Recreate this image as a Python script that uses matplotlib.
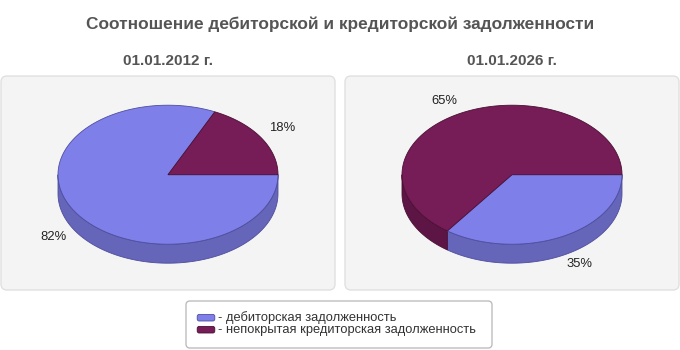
import numpy as np
import matplotlib
matplotlib.use("Agg")
import matplotlib.pyplot as plt
from matplotlib.patches import FancyBboxPatch, Polygon

plt.rcParams['font.family'] = ['Liberation Sans', 'DejaVu Sans']

# данные
title = "Соотношение дебиторской и кредиторской задолженности"
dates = ["01.01.2012 г.", "01.01.2026 г."]
series_names = ["- дебиторская задолженность", "- непокрытая кредиторская задолженность"]
receivable = [82, 35]
payable = [18, 65]

top_colors = ["#7F7FEA", "#761C56"]
side_colors = ["#6565B9", "#5C1544"]
edge_colors = ["#4E4E9E", "#4A1035"]

fig = plt.figure(figsize=(6.8, 3.5), dpi=100)
ax = fig.add_axes([0, 0, 1, 1])
ax.set_xlim(0, 680)
ax.set_ylim(350, 0)
ax.axis('off')

ax.text(340, 24, title, ha='center', va='center', fontsize=12.4, fontweight='bold', color='#555555')


def pt(cx, cy, rx, ry, a):
    return cx + rx * np.cos(a), cy - ry * np.sin(a)


def pie3d(cx, cy, rx, ry, depth, values):
    total = float(sum(values))
    frac = np.cumsum([0] + list(values)) / total
    # по часовой стрелке от 3 часов
    angles = -frac * 2 * np.pi
    # боковые стенки (только передняя половина)
    for i in range(len(values)):
        a0, a1 = angles[i], angles[i + 1]
        lo, hi = min(a0, a1), max(a0, a1)
        for k in range(-1, 1):
            f0 = max(lo, -np.pi + 2 * np.pi * k)
            f1 = min(hi, 0 + 2 * np.pi * k)
            if f1 > f0:
                t = np.linspace(f0, f1, 80)
                x, y = pt(cx, cy, rx, ry, t)
                xs = np.concatenate([x, x[::-1]])
                ys = np.concatenate([y, y[::-1] + depth])
                ax.add_patch(Polygon(np.column_stack([xs, ys]), closed=True,
                                     facecolor=side_colors[i], edgecolor=edge_colors[i], lw=0.6))
    # верх
    for i in range(len(values)):
        t = np.linspace(angles[i], angles[i + 1], 200)
        x, y = pt(cx, cy, rx, ry, t)
        xs = np.concatenate([[cx], x])
        ys = np.concatenate([[cy], y])
        ax.add_patch(Polygon(np.column_stack([xs, ys]), closed=True,
                             facecolor=top_colors[i], edgecolor=edge_colors[i], lw=0.6))
    # подписи
    for i in range(len(values)):
        mid = (angles[i] + angles[i + 1]) / 2
        x, y = pt(cx, cy, rx * 1.09, ry * 1.09, mid)
        ha = 'left' if np.cos(mid) > 0 else 'right'
        if np.sin(mid) > 0:
            va = 'bottom'
        else:
            va = 'top'
            y += depth * 0.82
        ax.text(x, y, "%d%%" % round(100 * values[i] / total), ha=ha, va=va,
                fontsize=9.4, color='#222222')


panels_x = [1, 345]
for j in range(2):
    x0 = panels_x[j]
    ax.add_patch(FancyBboxPatch((x0 + 4, 80), 326, 206, boxstyle="round,pad=4,rounding_size=6",
                                facecolor='#F4F4F4', edgecolor='#E0E0E0', lw=1))
    cx = x0 + 167
    ax.text(cx, 61, dates[j], ha='center', va='center', fontsize=11, fontweight='bold', color='#555555')
    pie3d(cx, 174.7, 110, 69.5, 19, [receivable[j], payable[j]])

# легенда
ax.add_patch(FancyBboxPatch((189, 304), 300, 41, boxstyle="round,pad=3,rounding_size=4",
                            facecolor='white', edgecolor='#BDBDBD', lw=1))
for i, name in enumerate(series_names):
    y = 317.7 + 12 * i
    ax.add_patch(FancyBboxPatch((198, y - 2.5), 16, 5, boxstyle="round,pad=0.8,rounding_size=2",
                                facecolor=top_colors[i], edgecolor=edge_colors[i], lw=0.6))
    ax.text(218, y, name, ha='left', va='center', fontsize=9.3, color='#333333')

fig.savefig("out.png", dpi=100)
